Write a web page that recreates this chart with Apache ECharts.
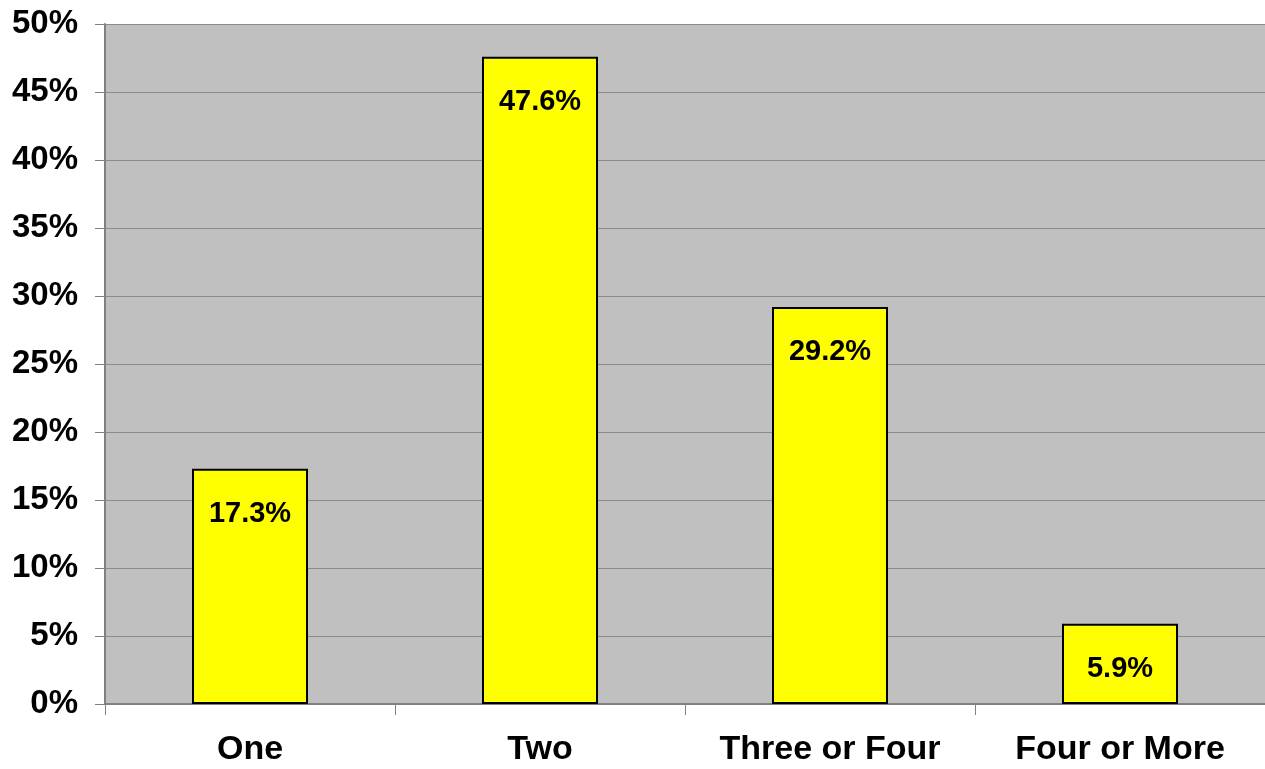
<!DOCTYPE html>
<html>
<head>
<meta charset="utf-8">
<script src="https://cdn.jsdelivr.net/npm/echarts@6/dist/echarts.min.js"></script>
<style>
html,body{margin:0;padding:0;background:#fff;}
#chart{width:1265px;height:769px;}
</style>
</head>
<body>
<div id="chart"></div>
<script>
const categories = ["One", "Two", "Three or Four", "Four or More"];
const values = [17.3, 47.6, 29.2, 5.9];
const yTicks = [0, 5, 10, 15, 20, 25, 30, 35, 40, 45, 50];

const font = "'Liberation Sans', Arial, sans-serif";
const chart = echarts.init(document.getElementById('chart'));
chart.setOption({
  animation: false,
  backgroundColor: '#ffffff',
  grid: {
    left: 105, right: 0, top: 24, bottom: 65,
    show: true, backgroundColor: '#c0c0c0', borderWidth: 0
  },
  xAxis: {
    type: 'category',
    data: categories,
    axisLine: { show: true, lineStyle: { color: '#808080', width: 2 } },
    axisTick: { show: true, length: 11, alignWithLabel: false, lineStyle: { color: '#808080', width: 1 } },
    axisLabel: { fontFamily: font, fontWeight: 'bold', fontSize: 34, color: '#000', margin: 29 },
    splitLine: { show: false }
  },
  yAxis: {
    type: 'value',
    min: yTicks[0], max: yTicks[yTicks.length - 1], interval: 5,
    axisLine: { show: true, lineStyle: { color: '#808080', width: 2 } },
    axisTick: { show: true, length: 10, lineStyle: { color: '#808080', width: 1 } },
    axisLabel: { fontFamily: font, fontWeight: 'bold', fontSize: 33, color: '#000', margin: 27,
      formatter: v => v + '%' },
    splitLine: { show: true, lineStyle: { color: '#8c8c8c', width: 1 } }
  },
  series: [{
    type: 'bar',
    data: values,
    barWidth: '40%',
    itemStyle: { color: '#ffff00', borderColor: '#000', borderWidth: 2 },
    label: {
      show: true, position: 'insideTop', distance: 31,
      fontFamily: font, fontWeight: 'bold', fontSize: 29, color: '#000',
      formatter: p => p.value.toFixed(1) + '%'
    }
  }]
});
</script>
</body>
</html>
